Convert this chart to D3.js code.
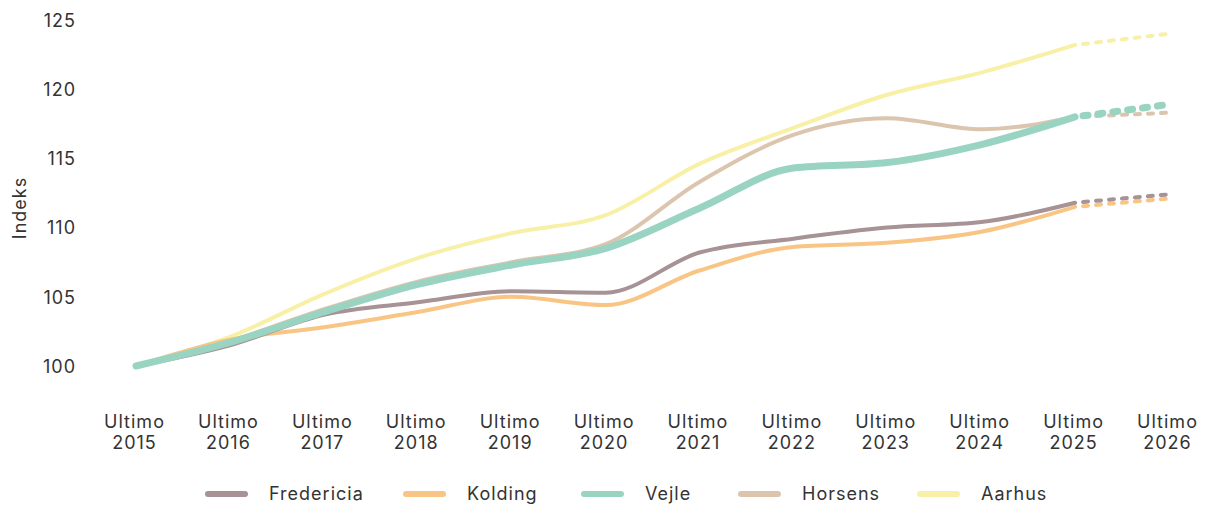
<!DOCTYPE html>
<html><head><meta charset="utf-8">
<script src="https://cdn.jsdelivr.net/npm/d3@7"></script>
<style>
html,body{margin:0;padding:0;background:#fff;}
svg text{font-family:Inter,"Open Sans",sans-serif;fill:#333;letter-spacing:1px;}
</style></head>
<body><svg id="chart" width="1208" height="506"></svg>
<script>
const years = ["2015","2016","2017","2018","2019","2020","2021","2022","2023","2024","2025","2026"];
const yTicks = [100,105,110,115,120,125];
const seriesNames = ["Fredericia","Kolding","Vejle","Horsens","Aarhus"];
const fredericia = [100,101.5,103.7,104.6,105.4,105.3,108.2,109.2,110.0,110.4,111.8,112.4];
const kolding    = [100,101.9,102.8,103.9,105.0,104.4,106.9,108.6,108.9,109.7,111.5,112.1];
const vejle      = [100,101.7,103.9,105.9,107.3,108.5,111.4,114.3,114.7,116.0,118.0,118.9];
const horsens     = [100,101.8,104.1,106.1,107.5,108.8,113.3,116.7,117.9,117.1,118.0,118.3];
const aarhus     = [100,102.1,105.2,107.8,109.6,110.9,114.6,117.2,119.6,121.2,123.2,124.0];
const colors = {Fredericia:"#a79295",Kolding:"#f9c584",Vejle:"#99d3c2",Horsens:"#dcc5ae",Aarhus:"#f8f0a6"};
const widths = {Fredericia:4,Kolding:4,Vejle:7,Horsens:4,Aarhus:4};
const dashes = {Fredericia:"5,8",Kolding:"5,8",Vejle:"5,10",Horsens:"5,8",Aarhus:"5,8"};
const values = {Fredericia:fredericia,Kolding:kolding,Vejle:vejle,Horsens:horsens,Aarhus:aarhus};
const drawOrder = ["Aarhus","Horsens","Kolding","Fredericia","Vejle"];

const svg = d3.select("#chart");
const x = d3.scalePoint().domain(years).range([136,1169]);
const y = d3.scaleLinear().domain([100,125]).range([366,20]);

// y axis labels
const yAxis = d3.axisLeft(y).tickValues(yTicks).tickSize(0).tickPadding(0);
const gy = svg.append("g").attr("transform","translate(76,0)").call(yAxis);
gy.select(".domain").remove();
gy.selectAll("text").style("font-size","18px").attr("dy","0.35em").attr("fill","#333");

svg.append("text").attr("transform","translate(26,208) rotate(-90)")
  .attr("text-anchor","middle").style("font-size","18px").text("Indeks");

// x axis labels
const xAxis = d3.axisBottom(x).tickSize(0).tickFormat(()=> "");
const gx = svg.append("g").attr("transform","translate(0,410)").call(xAxis);
gx.select(".domain").remove();
gx.selectAll(".tick").each(function(d){
  const g = d3.select(this);
  g.append("text").attr("text-anchor","middle").style("font-size","18px").attr("fill","#333")
    .attr("x",-2).attr("y",18).text("Ultimo");
  g.append("text").attr("text-anchor","middle").style("font-size","18px").attr("fill","#333")
    .attr("x",-2).attr("y",39).text(d);
});

const line = d3.line().x(d=>x(d.year)).y(d=>y(d.v)).curve(d3.curveMonotoneX);

drawOrder.forEach(name=>{
  const pts = years.map((yr,i)=>({year:yr,v:values[name][i]}));
  const solid = pts.slice(0,11);
  const dashed = pts.slice(10);
  svg.append("path").attr("d",line(solid)).attr("fill","none")
    .attr("stroke",colors[name]).attr("stroke-width",widths[name]).attr("stroke-linecap","round").attr("stroke-linejoin","round");
  svg.append("path").attr("d",line(dashed)).attr("fill","none")
    .attr("stroke",colors[name]).attr("stroke-width",widths[name]).attr("stroke-linecap","round")
    .attr("stroke-dasharray",dashes[name]).attr("stroke-dashoffset",-8);
});

// legend
const legendX = [205,403,581,738,917];
const lg = svg.append("g").attr("transform","translate(0,494)");
seriesNames.forEach((name,i)=>{
  const g = lg.append("g").attr("transform",`translate(${legendX[i]},0)`);
  g.append("line").attr("x1",3).attr("x2",40).attr("y1",0).attr("y2",0)
    .attr("stroke",colors[name]).attr("stroke-width",6).attr("stroke-linecap","round");
  g.append("text").attr("x",64).attr("y",0).attr("dy","0.35em").style("font-size","18px").text(name);
});
</script></body></html>
